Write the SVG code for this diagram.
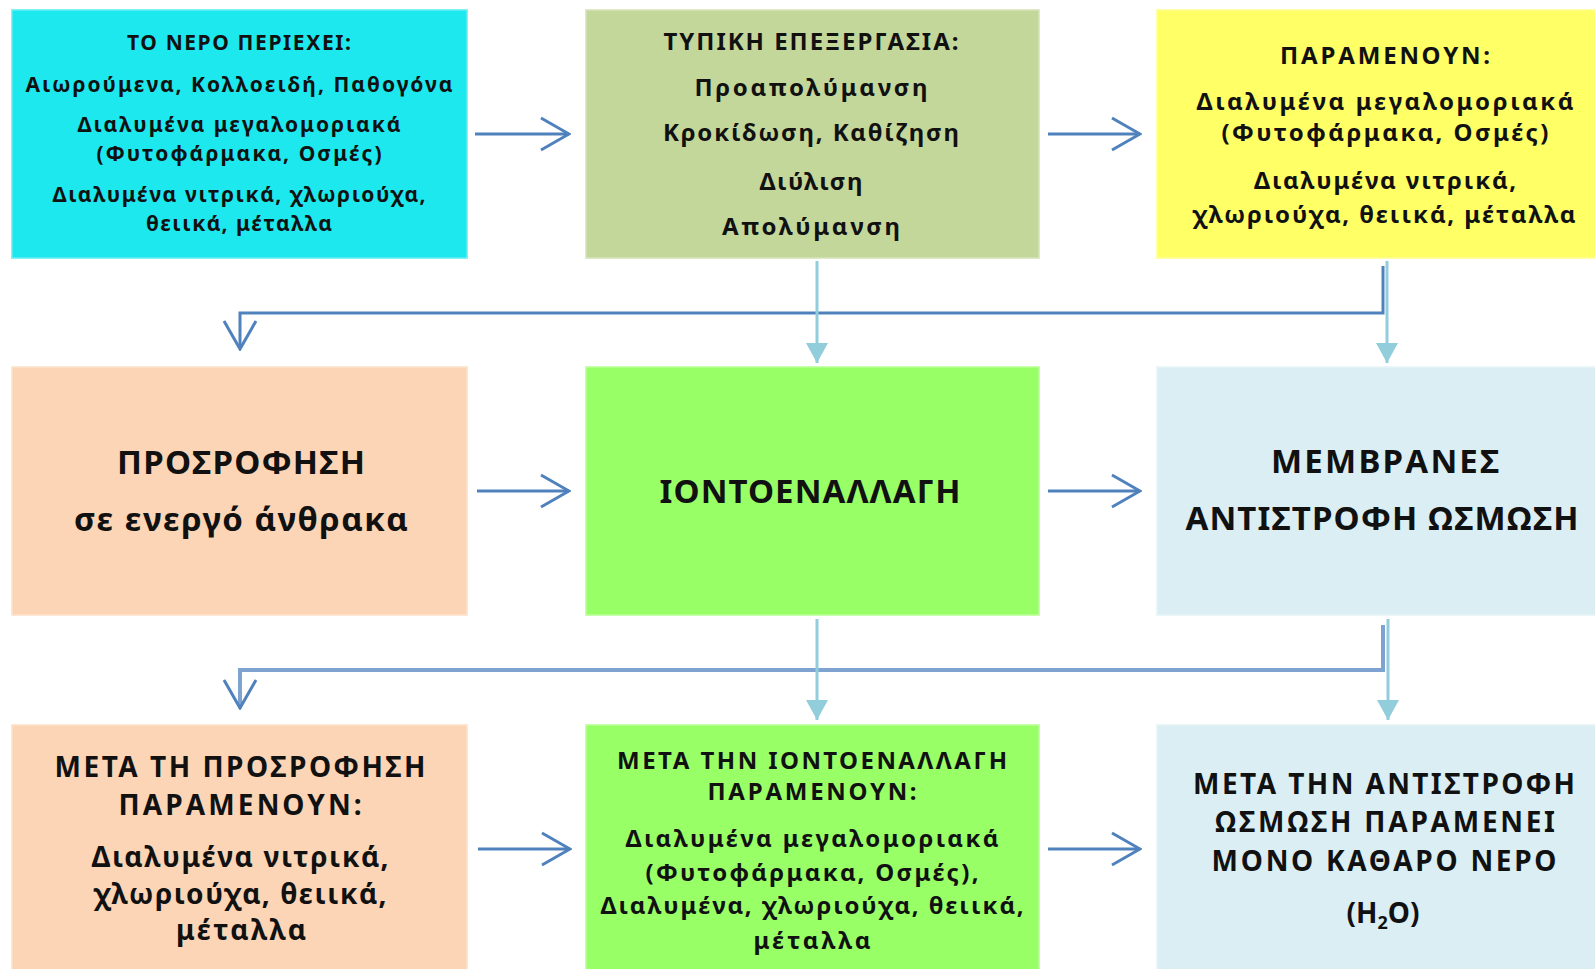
<svg xmlns="http://www.w3.org/2000/svg" width="1595" height="969" viewBox="0 0 1595 969">
<style>
  .box { stroke: #ffffff; stroke-opacity: 0.45; stroke-width: 3; }
  text { font-family: "Noto Sans", "Open Sans", "DejaVu Sans", sans-serif; font-weight: bold; fill: #111111; text-anchor: middle; }
  .s21 { font-size: 21px; }
  .s24 { font-size: 24px; }
  .s28 { font-size: 28px; }
  .s33 { font-size: 33px; }
  .dk { fill: none; stroke: #4f81bd; stroke-width: 3; }
  .dk2 { fill: none; stroke: #7fa3d0; stroke-width: 4; }
  .lt { fill: none; stroke: #92cddc; stroke-width: 3; }
</style>
<defs>
  <marker id="chev" viewBox="0 0 32 36" refX="30" refY="18" markerWidth="32" markerHeight="36" orient="auto" markerUnits="userSpaceOnUse">
    <path d="M2 2 L30 18 L2 34" fill="none" stroke="#4f81bd" stroke-width="3"/>
  </marker>
  <marker id="tri" viewBox="0 0 20 22" refX="20" refY="11" markerWidth="20" markerHeight="22" orient="auto" markerUnits="userSpaceOnUse">
    <path d="M0 0 L20 11 L0 22 Z" fill="#92cddc"/>
  </marker>
</defs>
<rect width="1595" height="969" fill="#ffffff"/>

<g id="connectors">
  <path class="dk" d="M1383 266 V313 H240 V349" marker-end="url(#chev)"/>
  <path class="dk2" d="M1383 625 V670 H240 V708" marker-end="url(#chev)"/>
  <path class="lt" d="M817 261 V363" marker-end="url(#tri)"/>
  <path class="lt" d="M1387 261 V363" marker-end="url(#tri)"/>
  <path class="lt" d="M817 619 V720" marker-end="url(#tri)"/>
  <path class="lt" d="M1388 619 V720" marker-end="url(#tri)"/>
  <path class="dk" d="M475 134 H569" marker-end="url(#chev)"/>
  <path class="dk" d="M1048 134 H1140" marker-end="url(#chev)"/>
  <path class="dk" d="M477 491 H569" marker-end="url(#chev)"/>
  <path class="dk" d="M1048 491 H1140" marker-end="url(#chev)"/>
  <path class="dk" d="M478 849 H570" marker-end="url(#chev)"/>
  <path class="dk" d="M1048 849 H1140" marker-end="url(#chev)"/>
</g>

<g id="n1">
  <rect class="box" x="11" y="9" width="457" height="250" fill="#1de8ee"/>
  <text class="s21" x="239" y="50" textLength="224">ΤΟ ΝΕΡΟ ΠΕΡΙΕΧΕΙ:</text>
  <text class="s21" x="239" y="92" textLength="427">Αιωρούμενα, Κολλοειδή, Παθογόνα</text>
  <text class="s21" x="239" y="132" textLength="323">Διαλυμένα μεγαλομοριακά</text>
  <text class="s21" x="239" y="161" textLength="285">(Φυτοφάρμακα, Οσμές)</text>
  <text class="s21" x="239" y="202" textLength="373">Διαλυμένα νιτρικά, χλωριούχα,</text>
  <text class="s21" x="239" y="231" textLength="186">θειικά, μέταλλα</text>
</g>

<g id="n2">
  <rect class="box" x="585" y="9" width="455" height="250" fill="#c4d79b"/>
  <text class="s24" x="811" y="50" textLength="295">ΤΥΠΙΚΗ ΕΠΕΞΕΡΓΑΣΙΑ:</text>
  <text class="s24" x="811" y="96" textLength="233">Προαπολύμανση</text>
  <text class="s24" x="811" y="141" textLength="296">Κροκίδωση, Καθίζηση</text>
  <text class="s24" x="811" y="190" textLength="103">Διύλιση</text>
  <text class="s24" x="811" y="235" textLength="178">Απολύμανση</text>
</g>

<g id="n3">
  <rect class="box" x="1156" y="9" width="442" height="250" fill="#ffff66"/>
  <text class="s24" x="1385" y="64" textLength="210">ΠΑΡΑΜΕΝΟΥΝ:</text>
  <text class="s24" x="1385" y="110" textLength="377">Διαλυμένα μεγαλομοριακά</text>
  <text class="s24" x="1385" y="141" textLength="327">(Φυτοφάρμακα, Οσμές)</text>
  <text class="s24" x="1385" y="189" textLength="262">Διαλυμένα νιτρικά,</text>
  <text class="s24" x="1384" y="223" textLength="383">χλωριούχα, θειικά, μέταλλα</text>
</g>

<g id="n4">
  <rect class="box" x="11" y="366" width="457" height="250" fill="#fbd5b5"/>
  <text class="s33" x="241" y="474" textLength="248">ΠΡΟΣΡΟΦΗΣΗ</text>
  <text class="s33" x="241" y="531" textLength="334">σε ενεργό άνθρακα</text>
</g>

<g id="n5">
  <rect class="box" x="585" y="366" width="455" height="250" fill="#99ff66"/>
  <text class="s33" x="810" y="503" textLength="301">ΙΟΝΤΟΕΝΑΛΛΑΓΗ</text>
</g>

<g id="n6">
  <rect class="box" x="1156" y="366" width="442" height="250" fill="#daeef3"/>
  <text class="s33" x="1385" y="473" textLength="228">ΜΕΜΒΡΑΝΕΣ</text>
  <text class="s33" x="1382" y="530" textLength="393">ΑΝΤΙΣΤΡΟΦΗ ΩΣΜΩΣΗ</text>
</g>

<g id="n7">
  <rect class="box" x="11" y="724" width="457" height="248" fill="#fbd5b5"/>
  <text class="s28" x="240" y="777" textLength="371">ΜΕΤΑ ΤΗ ΠΡΟΣΡΟΦΗΣΗ</text>
  <text class="s28" x="240" y="815" textLength="243">ΠΑΡΑΜΕΝΟΥΝ:</text>
  <text class="s28" x="240" y="867" textLength="297">Διαλυμένα νιτρικά,</text>
  <text class="s28" x="240" y="904" textLength="293">χλωριούχα, θειικά,</text>
  <text class="s28" x="241" y="940" textLength="130">μέταλλα</text>
</g>

<g id="n8">
  <rect class="box" x="585" y="724" width="455" height="248" fill="#99ff66"/>
  <text class="s24" x="812" y="769" textLength="390">ΜΕΤΑ ΤΗΝ ΙΟΝΤΟΕΝΑΛΛΑΓΗ</text>
  <text class="s24" x="812" y="800" textLength="209">ΠΑΡΑΜΕΝΟΥΝ:</text>
  <text class="s24" x="812" y="847" textLength="373">Διαλυμένα μεγαλομοριακά</text>
  <text class="s24" x="812" y="881" textLength="333">(Φυτοφάρμακα, Οσμές),</text>
  <text class="s24" x="812" y="914" textLength="423">Διαλυμένα, χλωριούχα, θειικά,</text>
  <text class="s24" x="812" y="949" textLength="117">μέταλλα</text>
</g>

<g id="n9">
  <rect class="box" x="1156" y="724" width="442" height="248" fill="#daeef3"/>
  <text class="s28" x="1384" y="794" textLength="382">ΜΕΤΑ ΤΗΝ ΑΝΤΙΣΤΡΟΦΗ</text>
  <text class="s28" x="1385" y="832" textLength="340">ΩΣΜΩΣΗ ΠΑΡΑΜΕΝΕΙ</text>
  <text class="s28" x="1384" y="871" textLength="345">ΜΟΝΟ ΚΑΘΑΡΟ ΝΕΡΟ</text>
  <text class="s28" x="1383" y="923">(H<tspan font-size="18" dy="6">2</tspan><tspan dy="-6">O)</tspan></text>
</g>
</svg>
